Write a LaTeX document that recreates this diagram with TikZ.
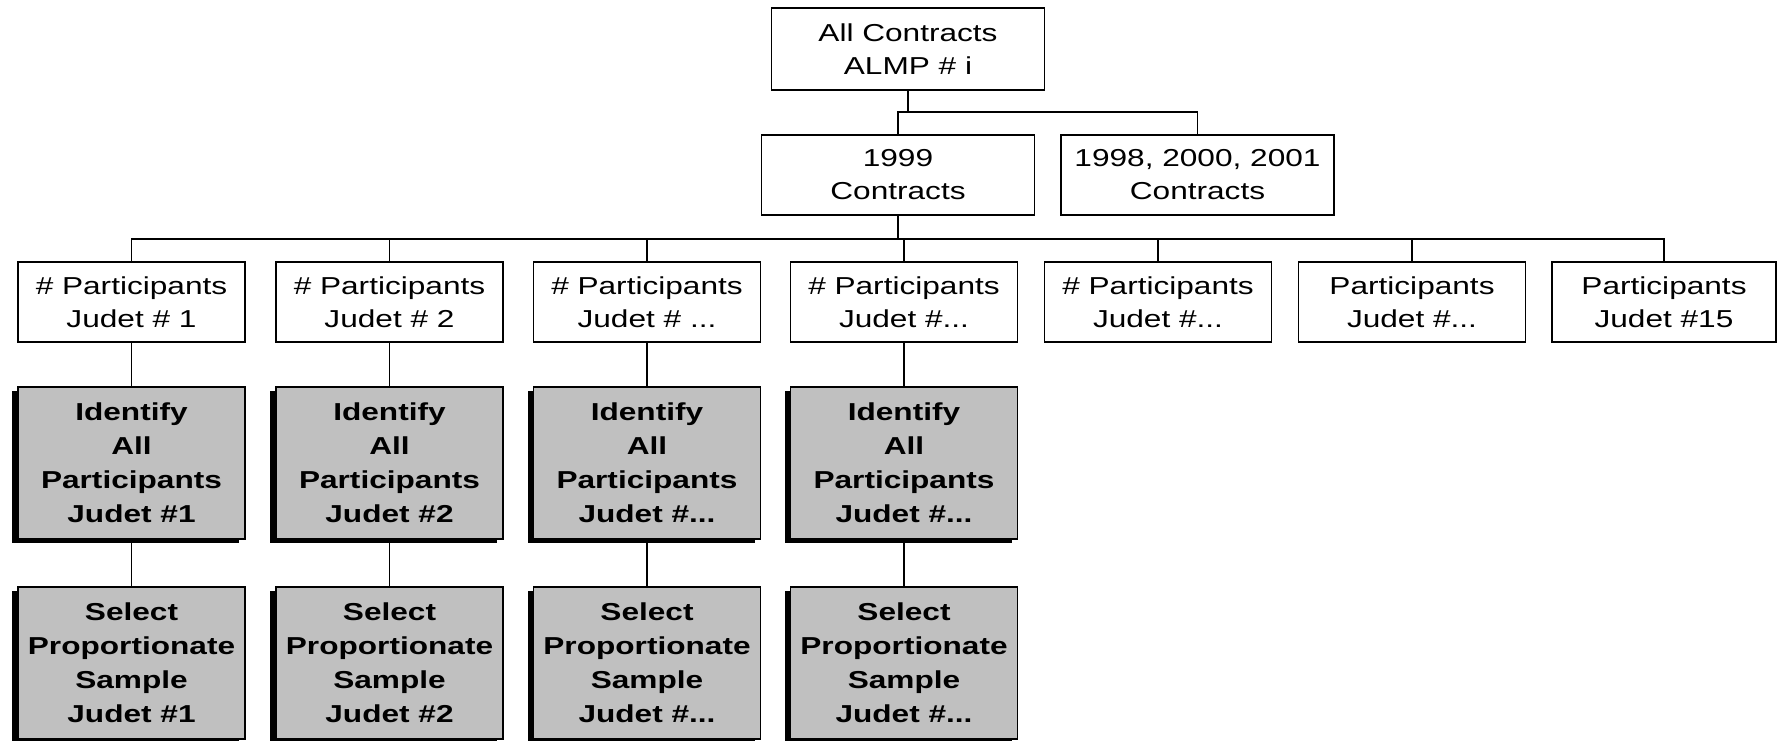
\documentclass[tikz,border=0pt]{standalone}
\usepackage{fontspec}
\setmainfont{Liberation Sans}[FakeStretch=1.29]
\usetikzlibrary{shadows}
\definecolor{boxgray}{RGB}{192,192,192}
\tikzset{
  wbox/.style={draw, line width=1.9pt, fill=white, minimum width=227pt, minimum height=80pt,
    align=center, inner sep=0pt, font=\fontsize{24.5}{33}\selectfont},
  gbox/.style={wbox, fill=boxgray, minimum height=152pt, font=\fontsize{24.5}{34}\selectfont\bfseries,
    general shadow={fill=black, shadow xshift=-6pt, shadow yshift=-4pt}},
  conn/.style={line width=1.9pt}
}
\begin{document}
\begin{tikzpicture}[x=1pt,y=-1pt]
\useasboundingbox (0,0) rectangle (1778,741);
\node[wbox, minimum width=273pt, minimum height=82pt] (top) at (908,49) {All Contracts\\ALMP \# i};
\node[wbox, minimum width=273pt] (c99) at (898,175) {1999\\Contracts};
\node[wbox, minimum width=273pt] (c98) at (1197.5,175) {1998, 2000, 2001\\Contracts};
\coordinate (j1) at (908,112);
\coordinate (j2) at (898,239);
\node[wbox] (p1) at (131.5,302) {\# Participants\\Judet \# 1};
\node[wbox] (p2) at (389.5,302) {\# Participants\\Judet \# 2};
\node[wbox] (p3) at (647,302) {\# Participants\\Judet \# ...};
\node[wbox] (p4) at (904,302) {\# Participants\\Judet \#...};
\node[wbox] (p5) at (1158,302) {\# Participants\\Judet \#...};
\node[wbox] (p6) at (1412,302) {Participants\\Judet \#...};
\node[wbox, minimum width=224pt] (p7) at (1664,302) {Participants\\Judet \#15};
\node[gbox] (i1) at (131.5,463) {Identify\\All\\Participants\\Judet \#1};
\node[gbox] (i2) at (389.5,463) {Identify\\All\\Participants\\Judet \#2};
\node[gbox] (i3) at (647,463) {Identify\\All\\Participants\\Judet \#...};
\node[gbox] (i4) at (904,463) {Identify\\All\\Participants\\Judet \#...};
\node[gbox] (s1) at (131.5,663) {Select\\Proportionate\\Sample\\Judet \#1};
\node[gbox] (s2) at (389.5,663) {Select\\Proportionate\\Sample\\Judet \#2};
\node[gbox] (s3) at (647,663) {Select\\Proportionate\\Sample\\Judet \#...};
\node[gbox] (s4) at (904,663) {Select\\Proportionate\\Sample\\Judet \#...};
\draw[conn] (top.south) -- (j1);
\draw[conn] (c99.north) |- (j1);
\draw[conn] (c98.north) |- (j1);
\draw[conn] (c99.south) -- (j2);
\foreach \n in {p1,p2,p3,p4,p5,p6,p7} {\draw[conn] (\n.north) |- (j2);}
\foreach \n in {1,2,3,4} {
  \draw[conn] (p\n.south) -- (i\n.north);
  \draw[conn] (i\n.south) -- (s\n.north);
}
\end{tikzpicture}
\end{document}
